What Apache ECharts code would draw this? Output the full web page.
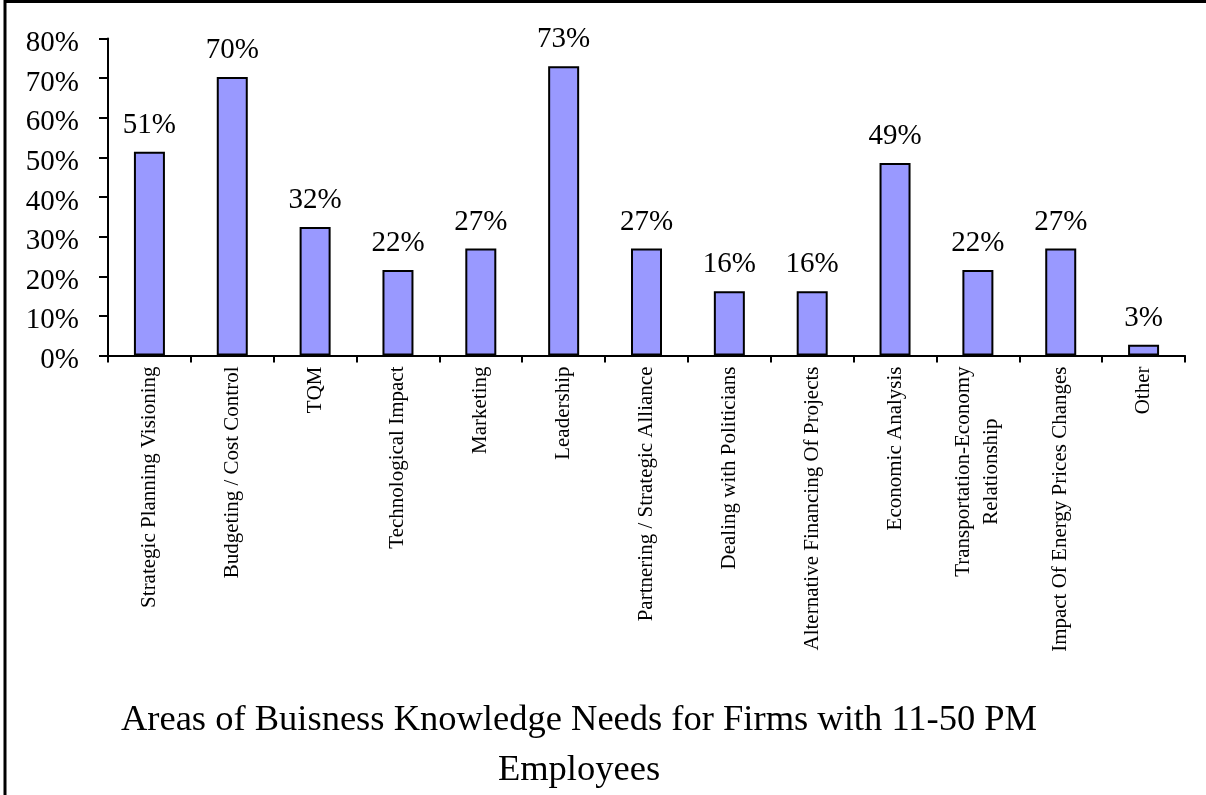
<!DOCTYPE html>
<html>
<head>
<meta charset="utf-8">
<script src="https://cdn.jsdelivr.net/npm/echarts@6/dist/echarts.min.js"></script>
<style>
html,body{margin:0;padding:0;background:#fff;}
#chart{width:1206px;height:795px;}
</style>
</head>
<body>
<div id="chart"></div>
<script>
const categories = [
  "Strategic Planning Visioning",
  "Budgeting / Cost Control",
  "TQM",
  "Technological Impact",
  "Marketing",
  "Leadership",
  "Partnering / Strategic Alliance",
  "Dealing with Politicians",
  "Alternative Financing Of Projects",
  "Economic Analysis",
  "Transportation-Economy\nRelationship",
  "Impact Of Energy Prices Changes",
  "Other"
];
const values = [51.4, 70.3, 32.4, 21.6, 27.0, 73.0, 27.0, 16.2, 16.2, 48.6, 21.6, 27.0, 2.7];
const titleLines = ["Areas of Buisness Knowledge Needs for Firms with 11-50 PM", "Employees"];
const yMin = 0, yMax = 80, yStep = 10;

const FONT = "'Liberation Serif','Times New Roman',Times,serif";
const chart = echarts.init(document.getElementById('chart'));
chart.setOption({
  animation: false,
  backgroundColor: '#fff',
  title: {
    text: titleLines.join('\n'),
    left: 574,
    top: 690,
    textAlign: 'center',
    textStyle: {fontFamily: FONT, fontSize: 36.5, fontWeight: 'normal', color: '#000', lineHeight: 50}
  },
  grid: {left: 108, top: 38.5, width: 1077, height: 317, containLabel: false},
  xAxis: {
    type: 'category',
    data: categories,
    axisLine: {lineStyle: {color: '#000', width: 2}},
    axisTick: {show: true, length: 7, lineStyle: {color: '#000', width: 2}},
    axisLabel: {
      interval: 0,
      rotate: 90,
      margin: 11,
      fontFamily: FONT,
      fontSize: 21,
      color: '#000',
      formatter: function (v) {
        return v.split('\n').map(function (s) { return '{c|' + s + '}'; }).join('\n');
      },
      rich: {c: {align: 'center', fontFamily: FONT, fontSize: 21, color: '#000', lineHeight: 28}}
    }
  },
  yAxis: {
    type: 'value',
    min: yMin, max: yMax, interval: yStep,
    splitLine: {show: false},
    axisLine: {show: true, lineStyle: {color: '#000', width: 2}},
    axisTick: {show: true, length: 9, lineStyle: {color: '#000', width: 2}},
    axisLabel: {
      margin: 29, fontFamily: FONT, fontSize: 29, color: '#000',
      formatter: function (v) { return '{y|' + v + '%}'; },
      rich: {y: {fontFamily: FONT, fontSize: 29, color: '#000', padding: [10, 0, 0, 0]}}
    }
  },
  series: [{
    type: 'bar',
    data: values,
    barWidth: 31,
    itemStyle: {color: '#9999FF', borderColor: '#000', borderWidth: 2},
    label: {
      show: true, position: 'top', distance: 12,
      fontFamily: FONT, fontSize: 29, color: '#000',
      formatter: function (p) { return Math.round(p.value) + '%'; }
    }
  }],
  graphic: [{
    type: 'polyline',
    silent: true,
    shape: {points: [[5, 800], [5, 1.5], [1210, 1.5]]},
    style: {stroke: '#000', lineWidth: 3, fill: null}
  }]
});
</script>
</body>
</html>
